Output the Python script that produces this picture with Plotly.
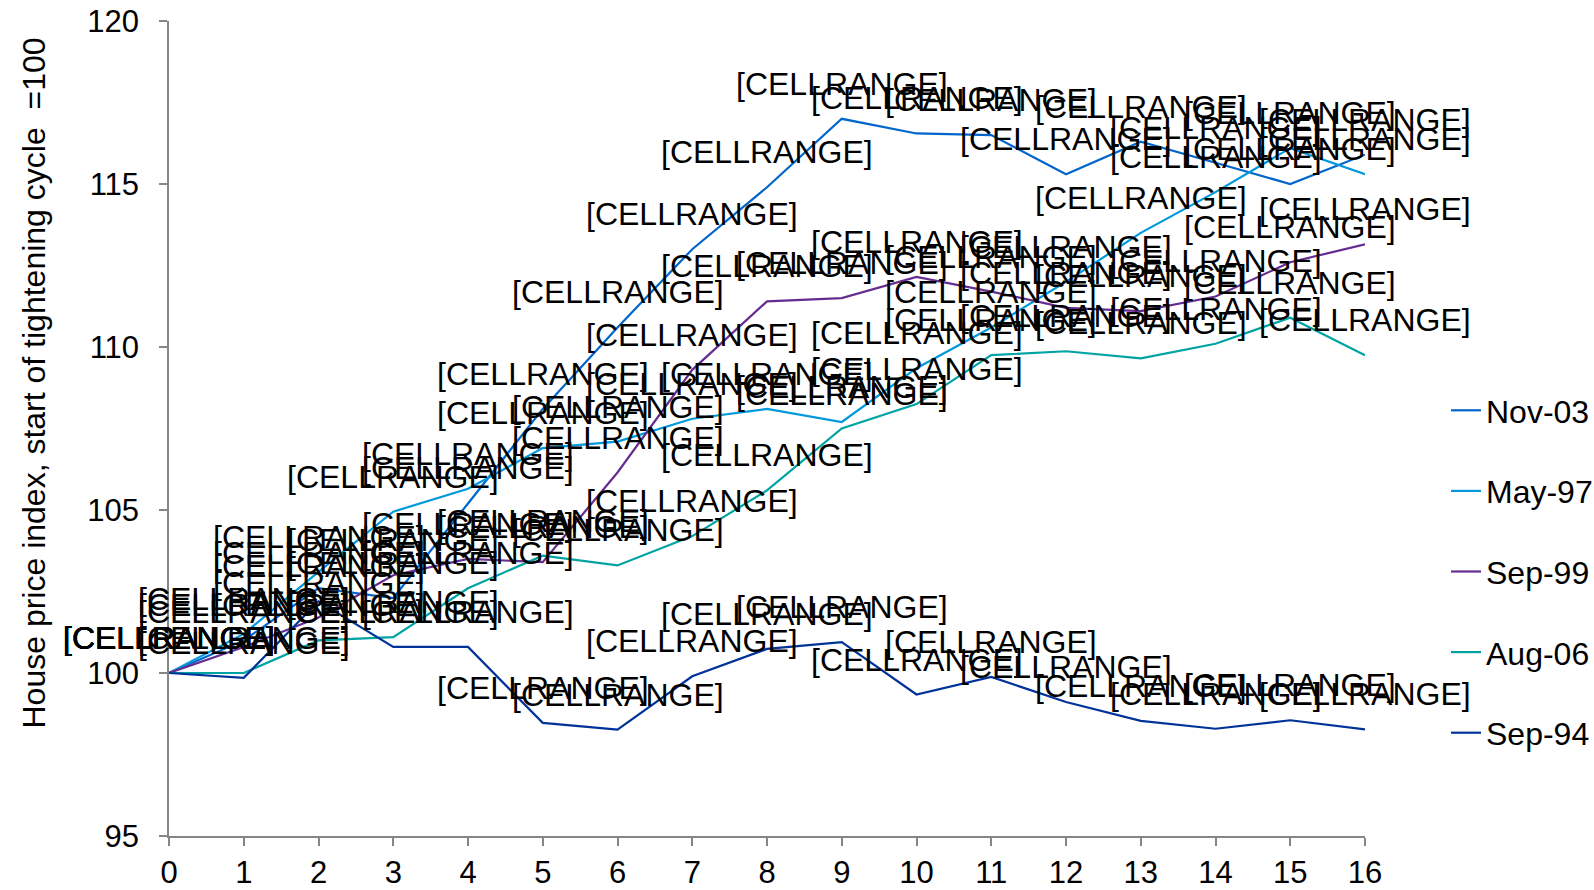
import plotly.graph_objects as go

months = list(range(17))

series_names = ["Nov-03", "May-97", "Sep-99", "Aug-06", "Sep-94"]
nov03 = [100, 101.0, 102.6, 102.3, 105.2, 108.1, 110.6, 113.0, 114.9, 117.0, 116.55, 116.5, 115.3, 116.3, 115.65, 115.0, 115.9]
may97 = [100, 101.2, 103.1, 104.95, 105.65, 106.9, 107.1, 107.8, 108.1, 107.7, 109.35, 110.6, 112.0, 113.5, 114.75, 116.1, 115.3]
sep99 = [100, 100.8, 101.7, 103.0, 103.5, 103.4, 106.15, 109.3, 111.4, 111.5, 112.15, 111.7, 111.2, 111.1, 111.55, 112.6, 113.15]
aug06 = [100, 100.0, 101.0, 101.1, 102.6, 103.6, 103.3, 104.2, 105.6, 107.5, 108.25, 109.75, 109.87, 109.65, 110.1, 110.9, 109.75]
sep94 = [100, 99.85, 102.2, 100.8, 100.8, 98.47, 98.26, 99.9, 100.74, 100.95, 99.34, 99.88, 99.11, 98.53, 98.29, 98.55, 98.27]

series_values = [nov03, may97, sep99, aug06, sep94]
colors = ["#0066CC", "#0099DD", "#662D91", "#00A3A3", "#003399"]
label_text = "[CELLRANGE]"
y_ticks = [95, 100, 105, 110, 115, 120]
y_title = "House price index, start of tightening cycle  =100"

FONT = "Liberation Sans, Arial, sans-serif"

W, H = 1594, 890
plot_left, plot_right = 169, 1365
plot_top, plot_bottom = 21, 836

fig = go.Figure()
for name, vals, col in zip(series_names, series_values, colors):
    fig.add_trace(go.Scatter(
        x=months, y=vals, mode="lines", name=name,
        line=dict(color=col, width=2.2),
        legendgroup=name,
    ))

annotations = []
for vals in series_values:
    for xv, yv in zip(months, vals):
        annotations.append(dict(
            x=xv, y=yv, xref="x", yref="y", text=label_text,
            showarrow=False, yshift=35, xanchor="center", yanchor="middle",
            font=dict(family=FONT, size=32, color="black"),
        ))

annotations.append(dict(
    x=(33.5 - plot_left) / (plot_right - plot_left),
    y=(plot_bottom - 383) / (plot_bottom - plot_top),
    xref="paper", yref="paper", text=y_title, showarrow=False,
    textangle=-90, font=dict(family=FONT, size=32, color="black"),
    xanchor="center", yanchor="middle",
))

fig.update_layout(
    width=W, height=H,
    margin=dict(l=plot_left, r=W - plot_right, t=plot_top, b=H - plot_bottom),
    paper_bgcolor="white", plot_bgcolor="white",
    font=dict(family=FONT, size=31, color="black"),
    showlegend=True,
    legend=dict(
        xref="container", yref="container",
        x=1446 / W, y=1 - 383 / H,
        xanchor="left", yanchor="top",
        font=dict(family=FONT, size=32, color="black"),
        tracegroupgap=36, bgcolor="rgba(0,0,0,0)",
    ),
    xaxis=dict(
        range=[0, 16], tickmode="array", tickvals=months, ticktext=[str(m) for m in months],
        showline=True, linecolor="#868686", linewidth=1.5,
        ticks="outside", ticklen=8, tickcolor="#868686", tickwidth=1.5,
        showgrid=False, zeroline=False, automargin=False,
        tickfont=dict(family=FONT, size=31, color="black"),
    ),
    yaxis=dict(
        range=[95, 120], tickmode="array", tickvals=y_ticks,
        showline=True, linecolor="#868686", linewidth=1.5,
        ticks="outside", ticklen=8, tickcolor="#868686", tickwidth=1.5,
        showgrid=False, zeroline=False, automargin=False,
        ticklabelstandoff=14,
        tickfont=dict(family=FONT, size=31, color="black"),
    ),
    annotations=annotations,
)

fig.write_html("out.html")
